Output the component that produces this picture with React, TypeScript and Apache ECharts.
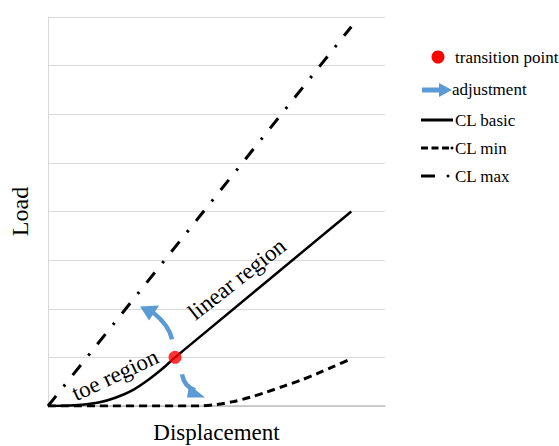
import React, { useEffect, useRef } from "react";
import * as echarts from "echarts";

// CL basic (solid): toe region then linear region
const basicX = [0, 0.5, 1, 1.5, 2, 2.5, 3, 3.4, 3.77, 9];
const basicY = [0, 0.005, 0.025, 0.07, 0.17, 0.32, 0.55, 0.77, 1, 4];
// CL min (dashed)
const minX = [0, 4.5, 5, 5.5, 6, 6.5, 7, 7.5, 8, 8.5, 9.02];
const minY = [0, 0, 0.03, 0.09, 0.18, 0.29, 0.41, 0.53, 0.67, 0.82, 0.98];
// CL max (dash-dot)
const maxX = [0, 9];
const maxY = [0, 7.8];
// transition point
const transitionPoint = [3.77, 1];

const legendLabels = ["transition point", "adjustment", "CL basic", "CL min", "CL max"];
const regionLabels = ["toe region", "linear region"];
const xName = "Displacement";
const yName = "Load";

const SERIF = "'Liberation Serif', 'Times New Roman', serif";
const BLUE = "#5B9BD5";

function zip(xs: number[], ys: number[]) {
  return xs.map((x, i) => [x, ys[i]]);
}

export default function App() {
  const ref = useRef<HTMLDivElement>(null);
  useEffect(() => {
    document.body.style.margin = "0";
    const chart = echarts.init(ref.current!, undefined, { renderer: "svg" });
    chart.setOption({
      animation: false,
      grid: { left: 48, top: 17, right: 174, bottom: 40, outerBoundsMode: "none", containLabel: false },
      xAxis: {
        type: "value",
        min: 0,
        max: 10,
        name: xName,
        nameLocation: "middle",
        nameGap: 14,
        nameTextStyle: { fontFamily: SERIF, fontSize: 23, color: "#000", verticalAlign: "top", lineHeight: 24 },
        axisLine: { show: true, lineStyle: { color: "#bfbfbf", width: 1.5 } },
        axisTick: { show: false },
        axisLabel: { show: false },
        splitLine: { show: false },
      },
      yAxis: {
        type: "value",
        min: 0,
        max: 8,
        interval: 1,
        name: yName,
        nameLocation: "middle",
        nameGap: 16,
        nameRotate: 90,
        nameTextStyle: { fontFamily: SERIF, fontSize: 24, color: "#000" },
        axisLine: { show: true, lineStyle: { color: "#d9d9d9", width: 1 } },
        axisTick: { show: false },
        axisLabel: { show: false },
        splitLine: { show: true, lineStyle: { color: "#d9d9d9", width: 1 } },
      },
      series: [
        {
          name: "CL max",
          type: "line",
          data: zip(maxX, maxY),
          showSymbol: false,
          lineStyle: { color: "#000", width: 3, type: [13, 12, 2.5, 12], cap: "butt" },
        },
        {
          name: "CL min",
          type: "line",
          data: zip(minX, minY),
          showSymbol: false,
          smooth: 0.3,
          lineStyle: { color: "#000", width: 3, type: [8, 5] },
        },
        {
          name: "CL basic",
          type: "line",
          data: zip(basicX, basicY),
          showSymbol: false,
          smooth: 0.2,
          lineStyle: { color: "#000", width: 2.5 },
        },
        {
          name: "transition point",
          type: "scatter",
          data: [transitionPoint],
          symbolSize: 13,
          itemStyle: { color: "#ff0000" },
          z: 5,
        },
      ],
    });

    const tp = chart.convertToPixel({ gridIndex: 0 }, transitionPoint) as number[];
    const [px, py] = tp;
    const textStyle = (t: string, size: number) => ({
      text: t,
      fontFamily: SERIF,
      fontSize: size,
      fill: "#000",
    });

    chart.setOption({
      graphic: [
        // adjustment arrow up-left
        {
          type: "bezierCurve",
          shape: { x1: px - 3, y1: py - 18, x2: px - 22, y2: py - 45, cpx1: px - 6, cpy1: py - 32 },
          style: { stroke: BLUE, lineWidth: 4.5, fill: null },
          z: 10,
        },
        {
          type: "polygon",
          shape: { points: [[px - 35, py - 51], [px - 16, py - 52], [px - 26, py - 37]] },
          style: { fill: BLUE },
          z: 10,
        },
        // adjustment arrow down-right
        {
          type: "bezierCurve",
          shape: { x1: px + 7, y1: py + 17, x2: px + 20, y2: py + 33, cpx1: px + 9, cpy1: py + 29 },
          style: { stroke: BLUE, lineWidth: 4.5, fill: null },
          z: 10,
        },
        {
          type: "polygon",
          shape: { points: [[px + 14, py + 27], [px + 30, py + 40], [px + 12, py + 40]] },
          style: { fill: BLUE },
          z: 10,
        },
        // region labels
        {
          type: "text",
          x: 115,
          y: 375,
          rotation: (25 * Math.PI) / 180,
          style: { ...textStyle(regionLabels[0], 23), align: "center", verticalAlign: "middle" },
          z: 10,
        },
        {
          type: "text",
          x: 237,
          y: 279,
          rotation: (38 * Math.PI) / 180,
          style: { ...textStyle(regionLabels[1], 23), align: "center", verticalAlign: "middle" },
          z: 10,
        },
        // legend
        { type: "circle", shape: { cx: 438, cy: 57, r: 6.5 }, style: { fill: "#ff0000" } },
        {
          type: "text",
          x: 455,
          y: 57,
          style: { ...textStyle(legendLabels[0], 17), verticalAlign: "middle" },
        },
        { type: "rect", shape: { x: 422, y: 87.5, width: 19, height: 5 }, style: { fill: BLUE } },
        {
          type: "polygon",
          shape: { points: [[439, 83], [452, 90], [439, 97]] },
          style: { fill: BLUE },
        },
        {
          type: "text",
          x: 452,
          y: 89,
          style: { ...textStyle(legendLabels[1], 17), verticalAlign: "middle" },
        },
        {
          type: "line",
          shape: { x1: 421, y1: 120, x2: 453, y2: 120 },
          style: { stroke: "#000", lineWidth: 3 },
        },
        {
          type: "text",
          x: 455,
          y: 120,
          style: { ...textStyle(legendLabels[2], 17), verticalAlign: "middle" },
        },
        {
          type: "line",
          shape: { x1: 421, y1: 148, x2: 449, y2: 148 },
          style: { stroke: "#000", lineWidth: 3, lineDash: [7, 3.5] },
        },
        { type: "circle", shape: { cx: 452, cy: 148, r: 1.5 }, style: { fill: "#000" } },
        {
          type: "text",
          x: 455,
          y: 148,
          style: { ...textStyle(legendLabels[3], 17), verticalAlign: "middle" },
        },
        {
          type: "line",
          shape: { x1: 421, y1: 176, x2: 435, y2: 176 },
          style: { stroke: "#000", lineWidth: 3 },
        },
        { type: "circle", shape: { cx: 448, cy: 176, r: 1.5 }, style: { fill: "#000" } },
        {
          type: "text",
          x: 455,
          y: 176,
          style: { ...textStyle(legendLabels[4], 17), verticalAlign: "middle" },
        },
      ],
    });
    return () => chart.dispose();
  }, []);
  return <div ref={ref} style={{ width: 559, height: 446 }} />;
}
